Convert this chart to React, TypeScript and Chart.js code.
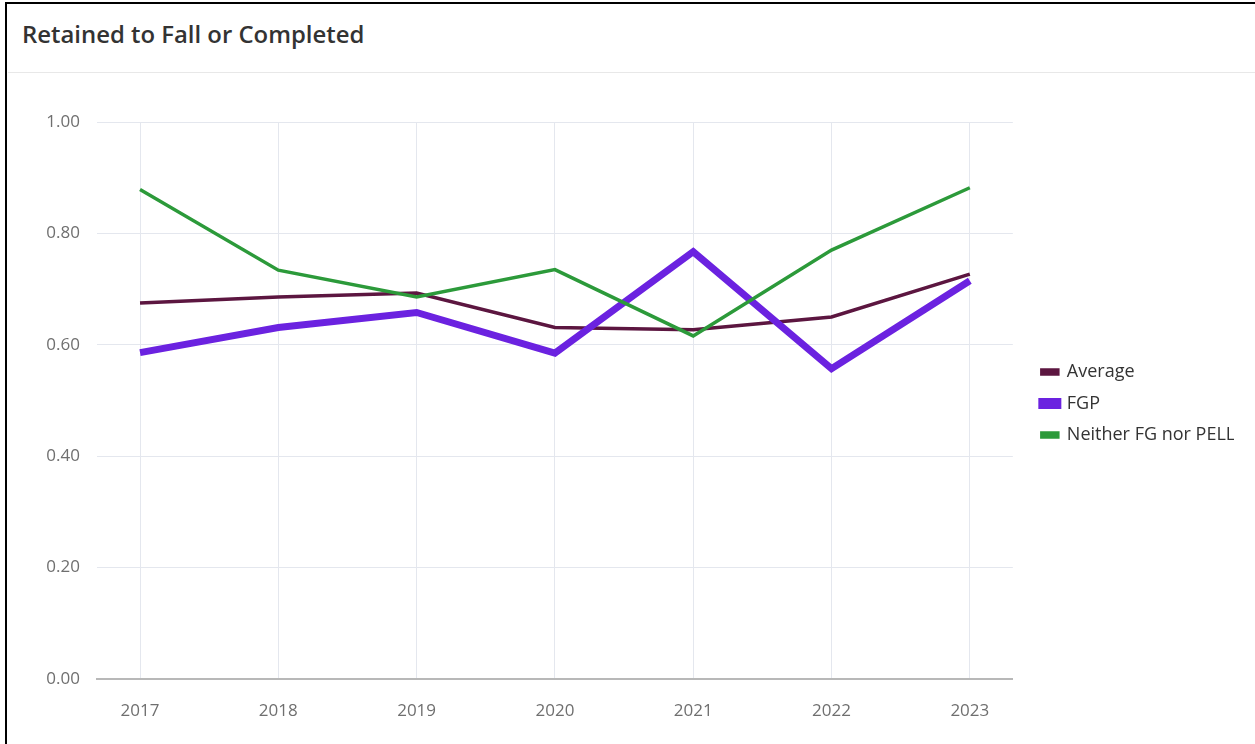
import React, { useEffect, useRef } from "react";
import { Chart, registerables } from "chart.js";

Chart.register(...registerables);

const years = [2017, 2018, 2019, 2020, 2021, 2022, 2023];
const averageValues = [0.675, 0.686, 0.693, 0.631, 0.627, 0.65, 0.727];
const fgpValues = [0.586, 0.631, 0.658, 0.585, 0.767, 0.557, 0.715];
const neitherValues = [0.879, 0.734, 0.686, 0.735, 0.616, 0.77, 0.882];
const seriesNames = ["Average", "FGP", "Neither FG nor PELL"];
const yTicks = [0, 0.2, 0.4, 0.6, 0.8, 1.0];
const titleText = "Retained to Fall or Completed";

const FONT = "'Open Sans', 'Noto Sans', sans-serif";
const LEGEND_SIZE = 18;
const LEGEND_PAD = 13.5;
const TICK_SIZE = 17;
const GAP_W = 1042 - LEGEND_PAD - 1013;
const PAD_RIGHT = 21;

export default function App() {
  const canvasRef = useRef<HTMLCanvasElement | null>(null);

  useEffect(() => {
    const canvas = canvasRef.current;
    if (!canvas) return;

    const toPoints = (vals: number[]) => years.map((y, i) => ({ x: y, y: vals[i] }));

    const chart = new Chart(canvas, {
      type: "line",
      data: {
        datasets: [
          {
            label: seriesNames[0],
            data: toPoints(averageValues),
            borderColor: "#5c1640",
            backgroundColor: "#5c1640",
            borderWidth: 3.5,
            pointRadius: 0,
            order: 3,
          },
          {
            label: seriesNames[1],
            data: toPoints(fgpValues),
            borderColor: "#6b22e0",
            backgroundColor: "#6b22e0",
            borderWidth: 7,
            pointRadius: 0,
            order: 2,
          },
          {
            label: seriesNames[2],
            data: toPoints(neitherValues),
            borderColor: "#2c9a3a",
            backgroundColor: "#2c9a3a",
            borderWidth: 3.5,
            pointRadius: 0,
            order: 1,
          },
        ],
      },
      options: {
        animation: false,
        responsive: false,
        maintainAspectRatio: false,
        layout: { padding: { top: 48, bottom: 0, left: 0, right: PAD_RIGHT } },
        plugins: {
          tooltip: { enabled: false },
          title: { display: false },
          legend: {
            position: "right",
            fullSize: false,
            title: {
              display: true,
              text: " ",
              color: "rgba(0,0,0,0)",
              font: { size: 5, family: FONT },
              padding: 0,
            },
            labels: {
              boxWidth: 16,
              boxHeight: 4,
              padding: LEGEND_PAD,
              color: "#333333",
              font: { size: LEGEND_SIZE, family: FONT },
              sort: (a: any, b: any) => a.datasetIndex - b.datasetIndex,
            },
          },
        },
        scales: {
          x: {
            type: "linear",
            min: 2016.689,
            max: 2023.311,
            afterBuildTicks: (scale: any) => {
              scale.ticks = years.map((v) => ({ value: v }));
            },
            afterFit: (scale: any) => {
              scale.height = 65;
            },
            ticks: {
              includeBounds: false,
              stepSize: 1,
              padding: 22,
              color: "#6f6f6f",
              font: { size: TICK_SIZE, family: FONT },
              callback: (v: any) => String(v),
              maxRotation: 0,
              autoSkip: false,
            },
            grid: { color: "#e4e7ee", lineWidth: 1, drawTicks: false },
            border: { display: true, color: "#b8b8b8", width: 2 },
          },
          y: {
            type: "linear",
            min: 0,
            max: 1,
            afterBuildTicks: (scale: any) => {
              scale.ticks = yTicks.map((v) => ({ value: v }));
            },
            afterFit: (scale: any) => {
              scale.width = 97;
            },
            ticks: {
              padding: 17,
              color: "#6f6f6f",
              font: { size: TICK_SIZE, family: FONT },
              callback: (v: any) => Number(v).toFixed(2),
            },
            grid: { color: "#e4e7ee", lineWidth: 1, drawTicks: false },
            border: { display: false },
          },
          gap: {
            type: "linear",
            position: "right",
            display: true,
            afterFit: (scale: any) => {
              scale.width = GAP_W;
            },
            ticks: { display: false },
            grid: { display: false, drawTicks: false },
            border: { display: false },
          },
        },
      },
    });
    return () => chart.destroy();
  }, []);

  return (
    <div
      style={{
        position: "absolute",
        left: 0,
        top: 0,
        width: 1255,
        height: 744,
        background: "#ffffff",
        overflow: "hidden",
      }}
    >
      <div
        style={{
          position: "absolute",
          left: 5,
          top: 2,
          width: 1250,
          height: 742,
          borderLeft: "2.5px solid #000",
          borderTop: "2px solid #000",
          boxSizing: "border-box",
        }}
      />
      <div
        style={{
          position: "absolute",
          left: 22,
          top: 18,
          fontFamily: FONT,
          fontWeight: 600,
          fontSize: 23.9,
          lineHeight: "32px",
          color: "#333333",
          whiteSpace: "nowrap",
        }}
      >
        {titleText}
      </div>
      <div
        style={{
          position: "absolute",
          left: 8,
          top: 72,
          width: 1247,
          height: 1,
          background: "#e8e8e8",
        }}
      />
      <canvas
        ref={canvasRef}
        width={1255}
        height={670}
        style={{ position: "absolute", left: 0, top: 74, width: 1255, height: 670 }}
      />
    </div>
  );
}
